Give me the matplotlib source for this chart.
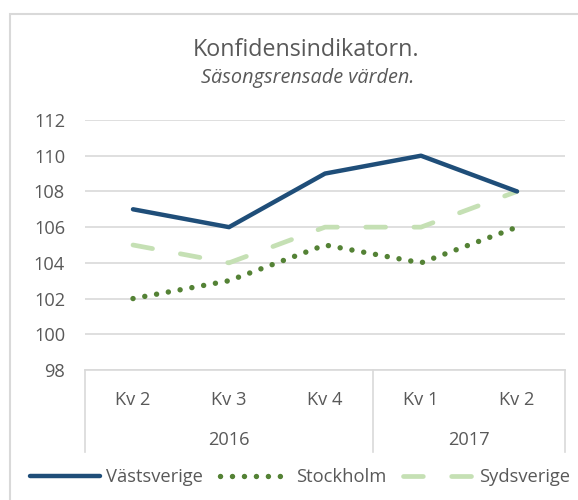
import matplotlib
matplotlib.use("Agg")
import matplotlib.pyplot as plt
from matplotlib.patches import Rectangle
import numpy as np

# ── data ──────────────────────────────────────────────
quarters = ["Kv 2", "Kv 3", "Kv 4", "Kv 1", "Kv 2"]
years = ["2016", "2017"]
year_spans = [(0, 2), (3, 4)]
vastsverige = [107, 106, 109, 110, 108]
stockholm = [102, 103, 105, 104, 106]
sydsverige = [105, 104, 106, 106, 108]
y_ticks = [98, 100, 102, 104, 106, 108, 110, 112]

TEXT = "#595959"
GRID = "#d9d9d9"
plt.rcParams["font.family"] = ["Open Sans", "DejaVu Sans"]

W, H = 578, 500
fig = plt.figure(figsize=(W / 100, H / 100), dpi=100)
renderer = fig.canvas.get_renderer()


def fit_size(text, width_px, **kw):
    """Font size (pt) that makes `text` about width_px pixels wide."""
    t = fig.text(0, 0, text, fontsize=10, **kw)
    w = t.get_window_extent(renderer).width
    t.remove()
    return 10 * width_px / w


def fy(py):
    return 1 - py / H


axis_fs = fit_size("2017", 42)
legend_fs = fit_size("Västsverige", 97)

# outer chart border (cut off at right and bottom like the screenshot)
fig.patches.append(Rectangle((10 / W, -0.05), 1.2, fy(14) + 0.05,
                             transform=fig.transFigure, fill=False,
                             edgecolor=GRID, lw=1.5))

ax = fig.add_axes([85 / W, fy(370), (565 - 85) / W, (370 - 120) / H])
x = np.arange(len(quarters))

ax.plot(x, vastsverige, color="#1f4e79", lw=3.2, solid_capstyle="round",
        label="Västsverige", zorder=3)
ax.plot(x, stockholm, color="#548235", lw=3.9, dashes=(0.01, 2.2),
        dash_capstyle="round", label="Stockholm", zorder=3)
ax.plot(x, sydsverige, color="#c5e0b4", lw=3.4, dashes=(4.2, 6.0),
        dash_capstyle="round", label="Sydsverige", zorder=2)

ax.set_xlim(-0.5, len(quarters) - 0.5)
ax.set_ylim(98, 112)
ax.set_yticks(y_ticks)
ax.yaxis.grid(True, color=GRID, lw=1.2)
ax.set_axisbelow(True)
for s in ["top", "right", "left"]:
    ax.spines[s].set_visible(False)
ax.spines["bottom"].set_color(GRID)
ax.spines["bottom"].set_linewidth(1.2)
ax.tick_params(axis="y", length=0, pad=14.4, labelsize=axis_fs,
               labelcolor=TEXT)
ax.set_xticks([])

# multi-level category axis
ax_h = 370 - 120
trans = ax.get_xaxis_transform()
for xv in [-0.5, 2.5, len(quarters) - 0.5]:
    ax.plot([xv, xv], [0, -(452 - 370) / ax_h], transform=trans,
            color=GRID, lw=1.2, clip_on=False)
for i, q in enumerate(quarters):
    ax.text(i, -(405 - 370) / ax_h, q, transform=trans, ha="center",
            va="baseline", fontsize=axis_fs, color=TEXT)
for yr, (a, b) in zip(years, year_spans):
    ax.text((a + b) / 2, -(445 - 370) / ax_h, yr, transform=trans,
            ha="center", va="baseline", fontsize=axis_fs, color=TEXT)

title = "Konfidensindikatorn."
subtitle = "Säsongsrensade värden."
fig.text(306 / W, fy(56), title, ha="center", va="baseline",
         fontsize=fit_size(title, 227), color=TEXT)
fig.text(308 / W, fy(83), subtitle, ha="center", va="baseline",
         fontsize=fit_size(subtitle, 213, style="italic"),
         style="italic", color=TEXT)

em = legend_fs * 100 / 72
fig.legend(loc="center", bbox_to_anchor=(300 / W, fy(477)), ncol=3,
           frameon=False, fontsize=legend_fs, labelcolor=TEXT,
           handlelength=70 / em, handletextpad=6 / em,
           columnspacing=17 / em, borderpad=0, borderaxespad=0)

fig.savefig("out.png", dpi=100)
